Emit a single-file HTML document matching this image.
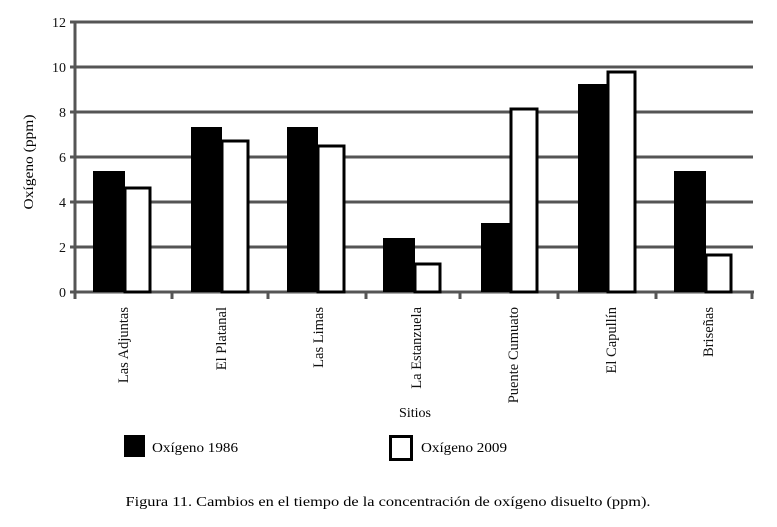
<!DOCTYPE html>
<html><head><meta charset="utf-8"><style>body{margin:0;background:#fff}</style></head><body>
<svg width="777" height="522" xmlns="http://www.w3.org/2000/svg" font-family="Liberation Serif, serif">
<g stroke="#555" stroke-width="3">
<line x1="70" y1="22" x2="753" y2="22"/><line x1="70" y1="67" x2="753" y2="67"/>
<line x1="70" y1="112" x2="753" y2="112"/><line x1="70" y1="157" x2="753" y2="157"/>
<line x1="70" y1="202" x2="753" y2="202"/><line x1="70" y1="247" x2="753" y2="247"/>
<line x1="70" y1="292" x2="754" y2="292"/>
<line x1="75" y1="21" x2="75" y2="299"/>
<line x1="172" y1="292" x2="172" y2="299"/><line x1="268" y1="292" x2="268" y2="299"/>
<line x1="366" y1="292" x2="366" y2="299"/><line x1="460" y1="292" x2="460" y2="299"/>
<line x1="558" y1="292" x2="558" y2="299"/><line x1="656" y1="292" x2="656" y2="299"/>
<line x1="752" y1="292" x2="752" y2="299"/>
</g>
<g font-size="14" fill="#111" text-anchor="end">
<text x="66" y="27">12</text><text x="66" y="72">10</text><text x="66" y="117">8</text>
<text x="66" y="162">6</text><text x="66" y="207">4</text><text x="66" y="252">2</text><text x="66" y="297">0</text>
</g>
<text transform="translate(33,162) rotate(-90)" font-size="14" text-anchor="middle" textLength="95" lengthAdjust="spacingAndGlyphs">Oxígeno (ppm)</text>
<g fill="#000">
<rect x="93" y="171" width="32" height="121"/>
<rect x="191" y="127" width="31" height="165"/>
<rect x="287" y="127" width="31" height="165"/>
<rect x="383" y="238" width="32" height="54"/>
<rect x="481" y="223" width="30" height="69"/>
<rect x="578" y="84" width="30" height="208"/>
<rect x="674" y="171" width="32" height="121"/>
</g>
<g fill="#fff" stroke="#000" stroke-width="3">
<rect x="125" y="188" width="25" height="104"/>
<rect x="222" y="141" width="26" height="151"/>
<rect x="318" y="146" width="26" height="146"/>
<rect x="415" y="264" width="25" height="28"/>
<rect x="511" y="109" width="26" height="183"/>
<rect x="608" y="72" width="27" height="220"/>
<rect x="706" y="255" width="25" height="37"/>
</g>
<g font-size="14.5" fill="#111" text-anchor="end">
<text transform="translate(128,307) rotate(-90)">Las Adjuntas</text>
<text transform="translate(226,307) rotate(-90)">El Platanal</text>
<text transform="translate(323,307) rotate(-90)">Las Limas</text>
<text transform="translate(421,307) rotate(-90)">La Estanzuela</text>
<text transform="translate(518,307) rotate(-90)">Puente Cumuato</text>
<text transform="translate(616,307) rotate(-90)">El Capullín</text>
<text transform="translate(713,307) rotate(-90)">Briseñas</text>
</g>
<text x="415" y="417" font-size="14" text-anchor="middle">Sitios</text>
<rect x="124" y="435" width="21" height="22" fill="#000"/>
<text x="152" y="452" font-size="14" textLength="86" lengthAdjust="spacingAndGlyphs">Oxígeno 1986</text>
<rect x="390.5" y="436.5" width="21" height="23" fill="#fff" stroke="#000" stroke-width="3"/>
<text x="421" y="452" font-size="14" textLength="86" lengthAdjust="spacingAndGlyphs">Oxígeno 2009</text>
<text x="388" y="506" font-size="14" text-anchor="middle" textLength="525" lengthAdjust="spacingAndGlyphs">Figura 11. Cambios en el tiempo de la concentración de oxígeno disuelto (ppm).</text>
</svg>
</body></html>
